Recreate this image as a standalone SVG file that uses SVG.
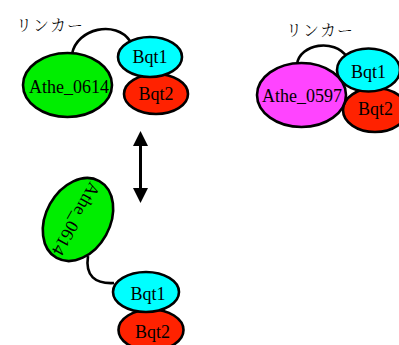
<svg xmlns="http://www.w3.org/2000/svg" width="399" height="345" viewBox="0 0 399 345">
  <style>
    .shape { stroke: #000; stroke-width: 2.6; }
    .green { fill: #00ee00; }
    .cyan { fill: #00ffff; }
    .red { fill: #ff2200; }
    .magenta { fill: #ff44ff; }
    .label { font-family: "Liberation Serif", "Times New Roman", serif; font-size: 18px; fill: #000; text-anchor: middle; }
    .jp { font-family: "Noto Serif CJK JP", "Noto Sans CJK JP", sans-serif; font-size: 16px; font-weight: 300; fill: #000; letter-spacing: 1px; }
    .linker { fill: none; stroke: #000; stroke-width: 2.6; }
    .arrow { fill: none; stroke: #000; stroke-width: 3; }
  </style>
  <defs>
    <marker id="head" viewBox="0 0 10 10" refX="2" refY="5" markerWidth="5" markerHeight="5" orient="auto-start-reverse" markerUnits="strokeWidth">
      <path d="M0,0 L10,5 L0,10 Z" fill="#000"/>
    </marker>
  </defs>

  <!-- linker loops and the double-headed arrow -->
  <g id="connectors">
    <path class="linker" d="M72,54 C77,28 116,20 130,41"/>
    <path class="linker" d="M297,64 C300,44 334,38 347,57"/>
    <path class="linker" d="M88,256 C85,276 95,284 114,283"/>
    <path class="arrow" d="M140.5,143 L140.5,191" marker-start="url(#head)" marker-end="url(#head)"/>
  </g>

  <!-- upper left: Athe_0614 with Bqt1/Bqt2 -->
  <g id="linker-label-1">
    <text class="jp" x="16" y="31">リンカー</text>
  </g>
  <g id="athe0614-top">
    <ellipse class="shape green" cx="67.5" cy="85" rx="44.5" ry="32"/>
    <text class="label" x="69" y="93">Athe_0614</text>
  </g>
  <g id="bqt2-top">
    <ellipse class="shape red" cx="156" cy="94" rx="32" ry="20"/>
    <text class="label" x="156" y="100">Bqt2</text>
  </g>
  <g id="bqt1-top">
    <ellipse class="shape cyan" cx="150" cy="57" rx="32" ry="20"/>
    <text class="label" x="150" y="63">Bqt1</text>
  </g>

  <!-- upper right: Athe_0597 with Bqt1/Bqt2 -->
  <g id="linker-label-2">
    <text class="jp" x="286" y="36">リンカー</text>
  </g>
  <g id="bqt2-right">
    <ellipse class="shape red" cx="375" cy="110" rx="32" ry="22"/>
    <text class="label" x="375.5" y="115">Bqt2</text>
  </g>
  <g id="bqt1-right">
    <ellipse class="shape cyan" cx="368.5" cy="70" rx="31.5" ry="21.5"/>
    <text class="label" x="368.5" y="78">Bqt1</text>
  </g>
  <g id="athe0597">
    <ellipse class="shape magenta" cx="301.5" cy="95" rx="44.5" ry="32"/>
    <text class="label" x="302" y="102">Athe_0597</text>
  </g>

  <!-- lower: rotated Athe_0614 with Bqt1/Bqt2 -->
  <g id="athe0614-bottom">
    <ellipse class="shape green" cx="0" cy="0" rx="44" ry="32" transform="translate(78,219.5) rotate(119)"/>
    <text class="label" x="0" y="6" transform="translate(76,219) rotate(119)">Athe_0614</text>
  </g>
  <g id="bqt2-bottom">
    <ellipse class="shape red" cx="151" cy="330" rx="32.5" ry="20.5"/>
    <text class="label" x="152.5" y="338">Bqt2</text>
  </g>
  <g id="bqt1-bottom">
    <ellipse class="shape cyan" cx="146" cy="292" rx="33" ry="20"/>
    <text class="label" x="148" y="300">Bqt1</text>
  </g>
</svg>
